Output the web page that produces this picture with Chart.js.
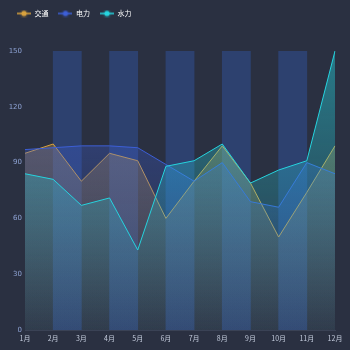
<!DOCTYPE html>
<html>
<head>
<meta charset="utf-8">
<script src="https://cdn.jsdelivr.net/npm/chart.js@4"></script>
<style>
  html, body { margin: 0; padding: 0; background: #2a3041; }
  #wrap { width: 350px; height: 350px; }
</style>
</head>
<body>
<div id="wrap"><canvas id="myChart"></canvas></div>
<script>
var months = ["1月", "2月", "3月", "4月", "5月", "6月", "7月", "8月", "9月", "10月", "11月", "12月"];
var traffic = [95, 100, 80, 95, 91, 60, 80, 99, 79, 50, 74, 99];
var power = [97, 98, 99, 99, 98, 89, 80, 90, 69, 66, 90, 84];
var water = [84, 81, 67, 71, 43, 88, 91, 100, 79, 86, 91, 150];
var bandSlots = ["1-2", "2-3", "3-4", "4-5", "5-6", "6-7", "7-8", "8-9", "9-10", "10-11", "11-12"];
var bands = [null, 150, null, 150, null, 150, null, 150, null, 150, null];

var names = ["交通", "电力", "水力"];
var lineColors = ["#d9a23e", "#3d5fd6", "#26d4df"];
var fillRgb = ["217,162,62", "61,95,214", "38,212,223"];

function grad(i) {
    return function (c) {
        var area = c.chart.chartArea;
        if (!area) return "rgba(" + fillRgb[i] + ",0.3)";
        var g = c.chart.ctx.createLinearGradient(0, area.top, 0, area.bottom);
        g.addColorStop(0, "rgba(" + fillRgb[i] + ",0.45)");
        g.addColorStop(1, "rgba(" + fillRgb[i] + ",0.04)");
        return g;
    };
}

function legendIcon(color) {
    var cv = document.createElement("canvas");
    cv.width = 14; cv.height = 8;
    var c = cv.getContext("2d");
    c.strokeStyle = color;
    c.lineWidth = 1.5;
    c.beginPath(); c.moveTo(0, 4); c.lineTo(14, 4); c.stroke();
    c.shadowColor = color; c.shadowBlur = 3;
    c.fillStyle = color;
    c.beginPath(); c.arc(7, 4, 2.5, 0, Math.PI * 2); c.fill();
    return cv;
}

var series = [traffic, power, water];
var datasets = series.map(function (d, i) {
    return {
        type: "line",
        label: names[i],
        data: d,
        borderColor: lineColors[i],
        borderWidth: 1,
        backgroundColor: grad(i),
        fill: "origin",
        pointRadius: 0,
        tension: 0,
        order: 3 - i,
        pointStyle: legendIcon(lineColors[i])
    };
});
datasets.push({
    type: "bar",
    label: "bg",
    data: bands,
    xAxisID: "x2",
    backgroundColor: "rgba(46,70,122,0.8)",
    barPercentage: 1,
    categoryPercentage: 1,
    grouped: false,
    order: 10
});

// extra space under the legend, and nudge it right a bit
var legendGap = {
    id: "legendGap",
    beforeInit: function (chart) {
        var fit = chart.legend.fit;
        chart.legend.fit = function () {
            fit.bind(chart.legend)();
            this.height += 24;
        };
    },
    afterLayout: function (chart) {
        chart.legend.left += 7;
    }
};

new Chart(document.getElementById("myChart"), {
    data: { labels: months, datasets: datasets },
    plugins: [legendGap],
    options: {
        responsive: true,
        maintainAspectRatio: false,
        animation: false,
        layout: { padding: { left: 0, right: 15, top: 0, bottom: 0 } },
        plugins: {
            tooltip: { enabled: false },
            legend: {
                align: "start",
                labels: {
                    filter: function (item) { return item.text !== "bg"; },
                    sort: function (a, b) { return a.datasetIndex - b.datasetIndex; },
                    usePointStyle: true,
                    pointStyleWidth: 14,
                    color: "#ffffff",
                    boxWidth: 14,
                    padding: 10,
                    font: { size: 7, family: "Noto Sans CJK SC" }
                }
            }
        },
        scales: {
            x: {
                offset: false,
                grid: { display: false, drawTicks: false },
                border: { color: "#3a4255" },
                ticks: { color: "#c3cbdc", font: { size: 7, family: "Noto Sans CJK SC" }, maxRotation: 0, autoSkip: false, padding: 4 },
                afterFit: function (s) { s.height = 20; }
            },
            x2: {
                type: "category",
                labels: bandSlots,
                offset: true,
                display: false,
                grid: { display: false }
            },
            y: {
                min: 0,
                max: 150,
                grid: { display: false, drawTicks: false },
                border: { display: false },
                ticks: { stepSize: 30, color: "#8ea3d4", font: { size: 7, family: "DejaVu Sans" }, padding: 3 },
                afterFit: function (s) { s.width = 25; }
            }
        }
    }
});
</script>
</body>
</html>
